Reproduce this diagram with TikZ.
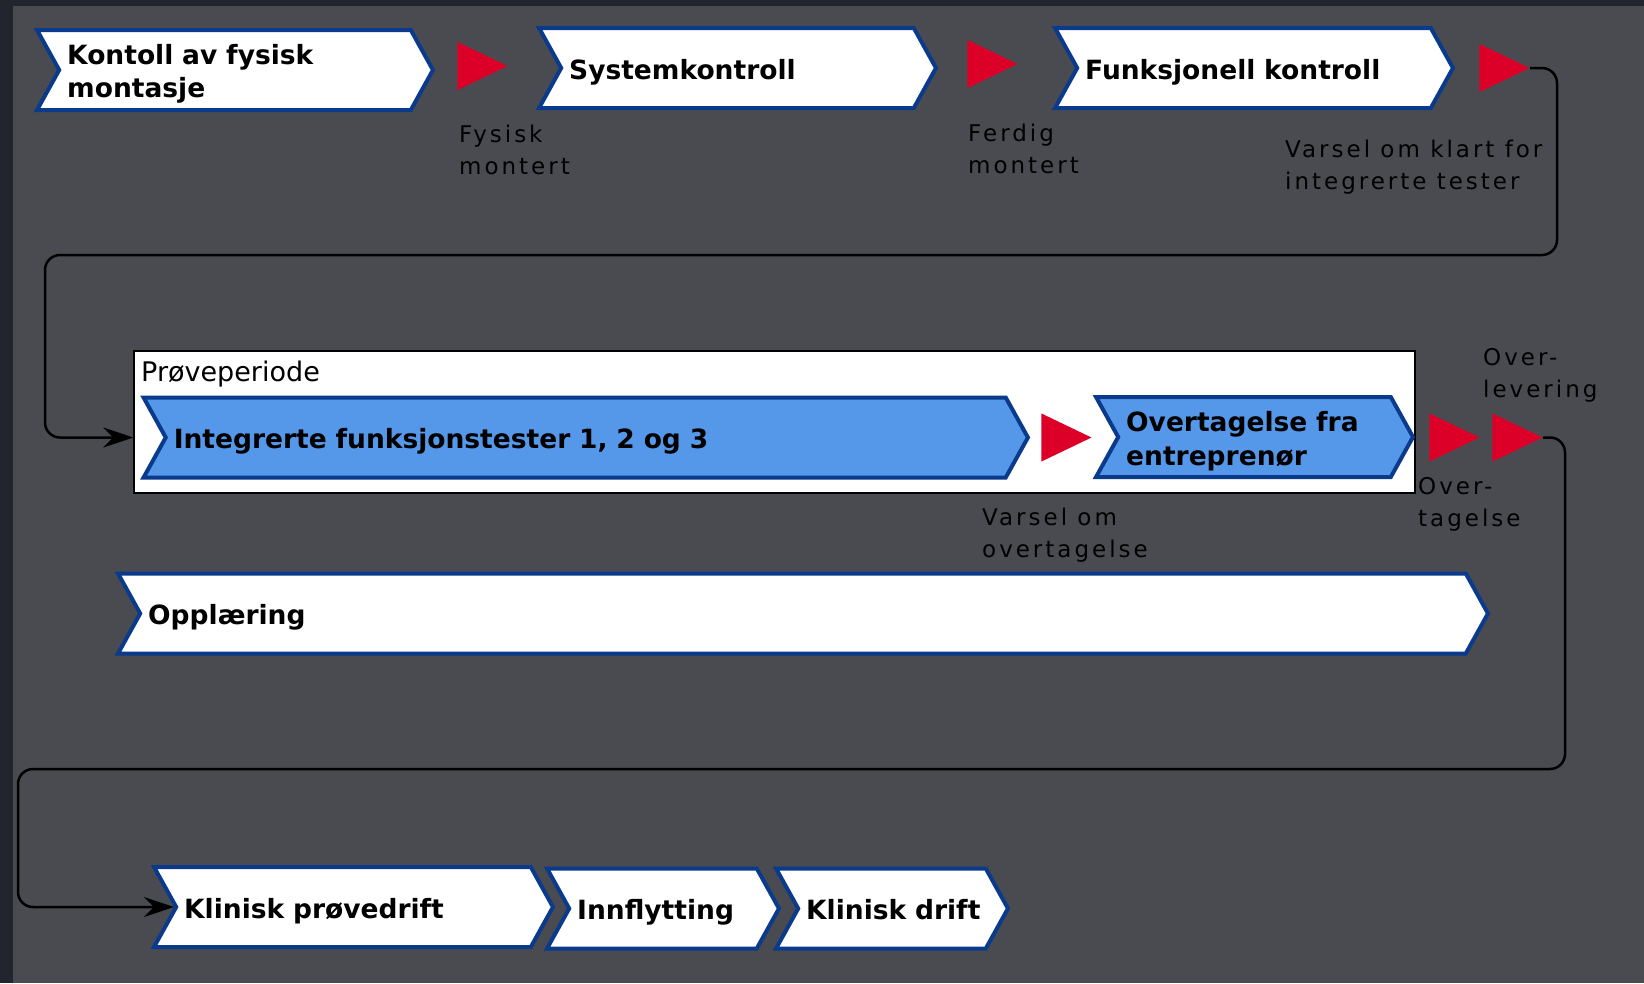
\documentclass[tikz,border=0pt]{standalone}
\usepackage{fontspec}
\setmainfont{DejaVu Sans}
\newfontfamily\spacedfont[LetterSpace=13]{DejaVu Sans}
\usetikzlibrary{positioning,shapes.symbols,shapes.geometric,arrows.meta}

\definecolor{bgdark}{HTML}{22252E}
\definecolor{bggrey}{HTML}{4A4B51}
\definecolor{chevedge}{HTML}{0A3A8C}
\definecolor{chevblue}{HTML}{5598E9}
\definecolor{flagred}{HTML}{DC0028}

\tikzset{
  chev/.style={signal, signal from=west, signal to=east, signal pointer angle=122,
               draw=chevedge, line width=4pt, fill=white, minimum height=80pt,
               inner xsep=8pt, inner ysep=0pt, align=left, text width=#1, text height=28pt,
               font=\fontsize{26.5}{33.5}\selectfont\bfseries},
  bluechev/.style={chev=#1, fill=chevblue},
  flag/.style={isosceles triangle, isosceles triangle stretches, fill=flagred,
               inner sep=0pt, minimum width=48pt, minimum height=50pt, anchor=apex},
  note/.style={align=left, anchor=west, inner sep=0pt, text=black,
               font=\fontsize{23}{32}\spacedfont},
  flow/.style={line width=2.5pt, rounded corners=15pt},
  tip/.style={-{Stealth[length=30pt,width=20pt,inset=10pt]}}
}

\begin{document}
\begin{tikzpicture}[x=1pt, y=-1pt]
\useasboundingbox (0,0) rectangle (1644,983);
\fill[bgdark] (0,0) rectangle (1644,983);
\fill[bggrey] (13,6) rectangle (1644,983);

% first row
\node[chev=335.6pt] (fysisk)  at (235,70)    {Kontoll av fysisk\\montasje};
\node[chev=336.6pt] (system)  at (737.5,68)  {Systemkontroll};
\node[chev=337.6pt] (funk)    at (1254,68)   {Funksjonell kontroll};
\node[flag]         (f1)      at (508,66)    {};
\node[flag]         (f2)      at (1018,64)   {};
\node[flag]         (f3)      at (1530,68)   {};
\node[note]         (n1)      at (459,150)   {Fysisk\\montert};
\node[note]         (n2)      at (968,148.5) {Ferdig\\montert};
\node[note]         (n3)      at (1285,167)  {Varsel om klart for\\integrerte tester};

% proveperiode
\node[draw=black, line width=1.5pt, fill=white, inner sep=0pt,
      minimum width=1281pt, minimum height=142pt] (periode) at (774.5,422) {};
\node[anchor=west, inner sep=0pt, font=\fontsize{27}{30}\selectfont] (ptitle) at (141,374) {Prøveperiode};
\node[bluechev=824pt]   (integ) at (585.75,437.5) {Integrerte funksjonstester 1, 2 og 3};
\node[bluechev=256.6pt] (overt) at (1254.5,437)   {Overtagelse fra\\entreprenør};
\node[flag]             (f4)    at (1092,437.5)   {};
\node[flag]             (f5)    at (1480,437.5)   {};
\node[flag]             (f6)    at (1543,437.5)   {};
\node[note]             (n4)    at (982,535)      {Varsel om\\overtagelse};
\node[note]             (n5)    at (1483,375)     {Over-\\levering};
\node[note]             (n6)    at (1418,504)     {Over-\\tagelse};

\node[chev=1309.6pt] (oppl) at (803,613.5) {Opplæring};

% last row
\node[chev=338.6pt] (klinprove) at (353.5,907) {Klinisk prøvedrift};
\node[chev=171.6pt] (innflytt)  at (663,908.5) {Innflytting};
\node[chev=171.6pt, text depth=6.5pt] (klindrift) at (892,908.5) {Klinisk~drift};

\coordinate (c1r) at (1557,255);
\coordinate (c1l) at (45,255);
\coordinate (c2r) at (1565,769);
\coordinate (c2l) at (18,769);
\draw[flow, tip] (f3.apex) -| (c1r) -- (c1l) |- (periode.west |- integ);
\draw[flow, tip] (f6.apex) -| (c2r) -- (c2l) |- (klinprove.west);
\end{tikzpicture}
\end{document}
